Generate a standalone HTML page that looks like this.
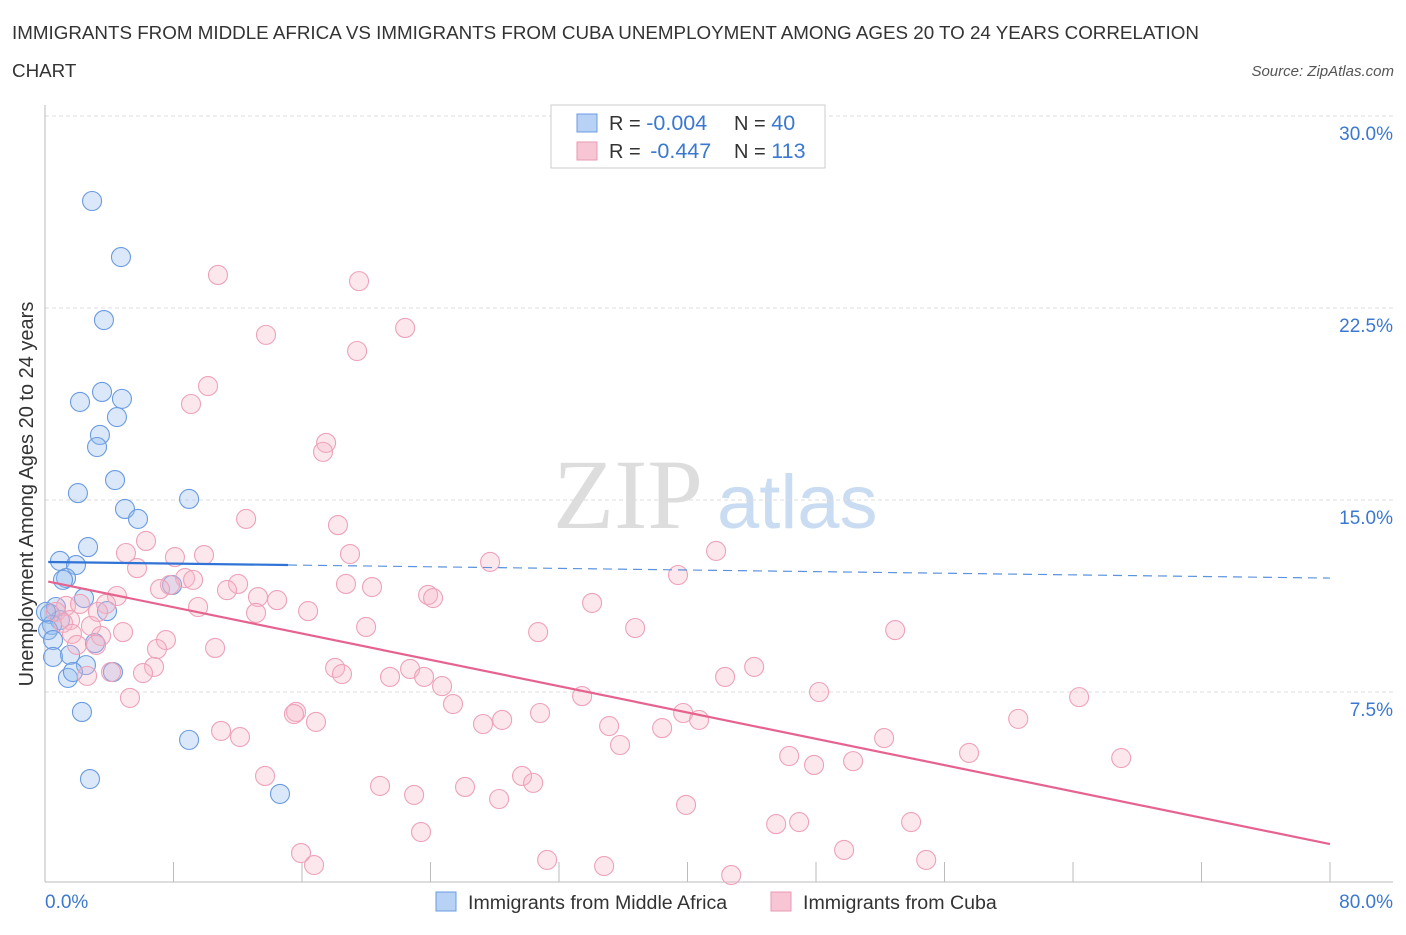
<!DOCTYPE html>
<html><head><meta charset="utf-8"><style>
body{margin:0;background:#fff;font-family:"Liberation Sans",sans-serif}
</style></head><body>
<svg width="1406" height="930" xmlns="http://www.w3.org/2000/svg" style="font-family:'Liberation Sans',sans-serif">
<text x="12" y="39" font-size="18.8" fill="#333">IMMIGRANTS FROM MIDDLE AFRICA VS IMMIGRANTS FROM CUBA UNEMPLOYMENT AMONG AGES 20 TO 24 YEARS CORRELATION</text>
<text x="12" y="77" font-size="18.8" fill="#333">CHART</text>
<text x="1394" y="76" font-size="15" fill="#555" font-style="italic" text-anchor="end">Source: ZipAtlas.com</text>
<g>
<text x="553" y="528" font-size="100" fill="#ddd" font-family="'Liberation Serif',serif">ZIP</text>
<text x="717" y="528" font-size="76" fill="#c9dcf2">atlas</text>
</g>
<g id="grid"></g>
<g id="axes"></g>
<g id="marks"></g>
<text transform="translate(33,494) rotate(-90)" font-size="20" fill="#333" text-anchor="middle">Unemployment Among Ages 20 to 24 years</text>
<text x="45" y="908" font-size="19" fill="#3b78d0">0.0%</text>
<text x="1393" y="908" font-size="19" fill="#3b78d0" text-anchor="end">80.0%</text>
<g>
<rect x="551" y="105" width="274" height="63" fill="#fff" stroke="#ccc"/>
<rect x="577" y="114" width="20" height="18" fill="#b7d2f5" stroke="#6a9be0"/>
<rect x="577" y="142" width="20" height="18" fill="#f8c5d4" stroke="#e99ab2"/>
<text x="609" y="130" font-size="20" fill="#333">R = <tspan fill="#3b78d0" font-size="21.5">-0.004</tspan><tspan x="734">N = </tspan><tspan fill="#3b78d0" font-size="21.5">40</tspan></text>
<text x="609" y="158" font-size="20" fill="#333">R = <tspan fill="#3b78d0" dx="4" font-size="21.5">-0.447</tspan><tspan x="734">N = </tspan><tspan fill="#3b78d0" font-size="21.5">113</tspan></text>
</g>
<g>
<rect x="436" y="892" width="20" height="19" fill="#b7d2f5" stroke="#6a9be0"/>
<text x="468" y="909" font-size="19.6" fill="#333">Immigrants from Middle Africa</text>
<rect x="771" y="892" width="20" height="19" fill="#f8c5d4" stroke="#e99ab2"/>
<text x="803" y="909" font-size="19.6" fill="#333">Immigrants from Cuba</text>
</g>
</svg>
<script>
const yTicks=[7.5,15,22.5,30];
const yTickLabels=["7.5%","15.0%","22.5%","30.0%"];
const xTicks=[0,8,16,24,32,40,48,56,64,72,80];
const blueX=[2.93,4.73,3.67,2.18,3.55,4.79,4.48,3.42,3.24,2.05,4.36,8.97,4.98,5.79,2.68,0.93,1.93,1.31,1.12,2.43,3.86,0.68,0.31,0.93,0.44,0.19,0.5,0.5,1.56,1.43,3.11,2.55,1.74,4.23,2.3,8.97,2.8,14.63,7.91,0.06];
const blueY=[26.68,24.49,22.03,18.83,19.22,18.95,18.24,17.54,17.07,15.27,15.78,15.04,14.65,14.26,13.16,12.62,12.46,11.95,11.88,11.17,10.66,10.82,10.55,10.31,10.12,9.92,9.53,8.87,8.95,8.05,9.41,8.55,8.28,8.28,6.72,5.63,4.1,3.52,11.68,10.63];
const pinkX=[10.77,19.55,22.42,13.76,19.43,10.15,9.09,17.5,17.31,12.52,18.24,6.29,5.04,8.09,9.9,18.99,27.71,41.78,39.41,5.73,8.72,9.22,7.78,12.02,7.16,11.33,18.74,20.36,23.85,24.16,4.48,3.8,13.26,14.45,34.06,9.53,16.38,13.14,1.31,2.18,0.68,1.56,1.12,2.86,4.86,3.49,1.68,19.99,30.7,36.74,52.93,7.53,6.97,10.59,1.99,3.18,6.79,6.1,4.11,2.62,18.06,18.49,21.48,22.73,23.6,24.72,42.34,44.15,5.29,33.44,48.19,64.38,25.4,15.63,15.5,16.87,27.27,28.46,30.82,35.12,39.73,40.72,38.42,60.59,10.96,12.14,35.8,52.24,57.53,46.33,47.88,50.31,67.0,13.7,20.86,26.15,29.7,30.39,22.98,28.27,39.91,53.92,45.52,46.95,23.41,15.94,16.75,31.26,34.81,49.75,54.86,42.72,3.3];
const pinkY=[23.79,23.55,21.72,21.45,20.82,19.45,18.75,17.23,16.88,14.26,14.02,13.4,12.93,12.77,12.85,12.89,12.58,13.01,12.07,12.34,11.95,11.88,11.68,11.72,11.52,11.48,11.72,11.6,11.29,11.17,11.25,10.94,11.21,11.09,10.98,10.82,10.66,10.59,10.86,10.94,10.63,10.31,10.2,10.08,9.84,9.69,9.77,10.04,9.84,10.0,9.92,9.53,9.18,9.22,9.34,9.34,8.48,8.24,8.28,8.13,8.44,8.2,8.09,8.4,8.09,7.73,8.09,8.48,7.27,7.34,7.5,7.3,7.03,6.72,6.64,6.33,6.25,6.41,6.68,6.17,6.68,6.41,6.09,6.45,5.98,5.74,5.43,5.7,5.12,5.0,4.65,4.8,4.92,4.22,3.83,3.79,4.22,3.95,3.48,3.32,3.09,2.42,2.34,2.42,2.03,1.21,0.74,0.94,0.7,1.33,0.94,0.35,10.63];
const blueTrend=[12.58,11.95];
const blueSolidEnd=15.13;
const pinkTrend=[11.84,1.56];
const NS="http://www.w3.org/2000/svg";
const X0=45,X1=1330,Y0=884,YPER=25.6;
const sx=v=>X0+(X1-X0)*v/80;
const sy=v=>Y0-v*YPER;
function mk(tag,attrs,parent){const e=document.createElementNS(NS,tag);for(const k in attrs)e.setAttribute(k,attrs[k]);parent.appendChild(e);return e;}
const grid=document.getElementById('grid'),axes=document.getElementById('axes'),marks=document.getElementById('marks');
yTicks.forEach((t,i)=>{
 const l=mk('line',{x1:X0,x2:1393,y1:sy(t),y2:sy(t),stroke:'#ddd','stroke-dasharray':'4,3'},grid);
 
 
 const tx=mk('text',{x:1393,y:sy(t)+24,'font-size':19,fill:'#3b78d0','text-anchor':'end'},grid);
 tx.textContent=yTickLabels[i];
 
 
});
const ax=mk('line',{x1:X0,x2:1393,y1:882,y2:882,stroke:'#bbb'},axes);


const ay=mk('line',{x1:X0,x2:X0,y1:105,y2:882,stroke:'#bbb'},axes);


xTicks.forEach(t=>{
 const l=mk('line',{x1:sx(t),x2:sx(t),y1:862,y2:882,stroke:'#bbb'},axes);
 
 
});
blueX.forEach((x,i)=>{
 const c=mk('circle',{cx:sx(x),cy:sy(blueY[i]),r:9.5,fill:'rgba(150,188,238,0.35)',stroke:'#6a9be0','stroke-width':1.1},marks);
 
 
});
pinkX.forEach((x,i)=>{
 const c=mk('circle',{cx:sx(x),cy:sy(pinkY[i]),r:9.5,fill:'rgba(246,180,200,0.32)',stroke:'#eda2b9','stroke-width':1.1},marks);
 
 
});
const bAt=v=>blueTrend[0]+(blueTrend[1]-blueTrend[0])*v/80;
const b1=mk('line',{x1:sx(0.2),y1:sy(bAt(0.2)),x2:sx(blueSolidEnd),y2:sy(bAt(blueSolidEnd)),stroke:'#2f73d6','stroke-width':2.2},marks);


const b2=mk('line',{x1:sx(blueSolidEnd),y1:sy(bAt(blueSolidEnd)),x2:sx(80),y2:sy(bAt(80)),stroke:'#5b93de','stroke-width':1.2,'stroke-dasharray':'9,6'},marks);


const p1=mk('line',{x1:sx(0.2),y1:sy(pinkTrend[0]+(pinkTrend[1]-pinkTrend[0])*0.2/80),x2:sx(80),y2:sy(pinkTrend[1]),stroke:'#e5638e','stroke-width':2.2},marks);


</script>
</body></html>
